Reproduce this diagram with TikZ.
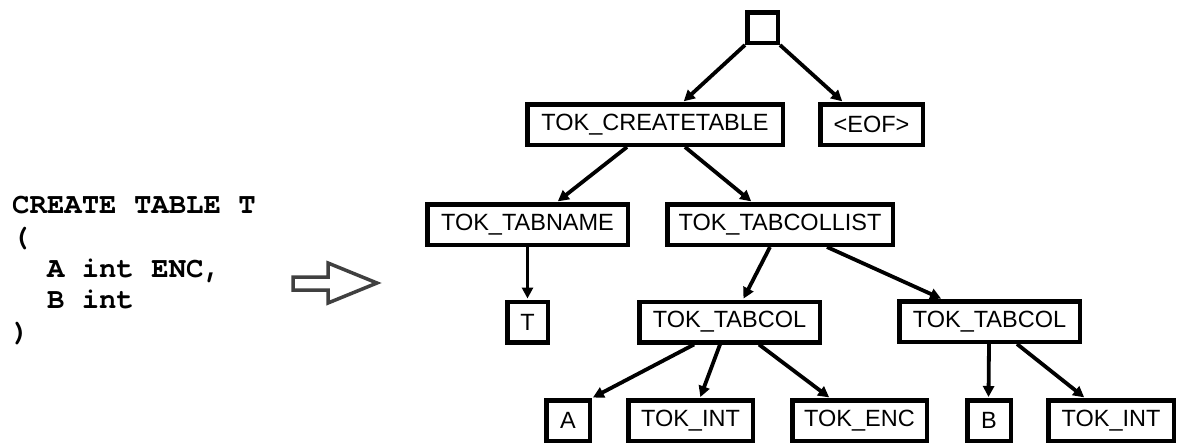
\documentclass[tikz,border=0pt]{standalone}
\usepackage{fontspec}
\setmainfont{Liberation Sans}
\setmonofont{TeX Gyre Cursor}
\usetikzlibrary{arrows.meta}
\begin{document}
\begin{tikzpicture}[x=1pt,y=-1pt,
  tok/.style={draw=black, line width=4.5pt, inner sep=0pt, minimum height=40.5pt,
    font=\fontsize{23.5}{28}\selectfont},
  edge/.style={line width=3.8pt, -{Triangle[length=11pt,width=11pt]}, shorten >=1pt},
  codeline/.style={anchor=base west, inner sep=0pt,
    font=\ttfamily\bfseries\fontsize{29}{32}\selectfont},
  hollow/.style={draw=black!75, line width=3.5pt, fill=white, line join=miter}]
\useasboundingbox (0,0) rectangle (1178,445);

% source text
\node[codeline] (c1) at (12,213) {CREATE TABLE T};
\node[codeline] (c2) at (12,245) {(};
\node[codeline] (c3) at (46.8,277) {A int ENC,};
\node[codeline] (c4) at (46.8,308.5) {B int};
\node[codeline] (c5) at (12,340) {)};

% transformation arrow
\draw[hollow] (293,277) -- (328,277) -- (328,263) -- (377,283) -- (328,303)
  -- (328,290) -- (293,290) -- cycle;

% parse tree
\node[tok, minimum width=30.5pt, minimum height=30.5pt] (root) at (762.5,27.5) {};
\node[tok, minimum width=255.5pt] (create) at (655,124.5) {TOK\_CREATETABLE};
\node[tok, minimum width=102.5pt] (eof) at (871.5,124.5) {<EOF>};
\node[tok, minimum width=200.5pt] (tabname) at (527.5,224.5) {TOK\_TABNAME};
\node[tok, minimum width=225.5pt] (collist) at (780,224.5) {TOK\_TABCOLLIST};
\node[tok, minimum width=40.5pt] (t) at (527.5,322) {T};
\node[tok, minimum width=180.5pt] (col1) at (729.5,322) {TOK\_TABCOL};
\node[tok, minimum width=180.5pt] (col2) at (989.5,321.5) {TOK\_TABCOL};
\node[tok, minimum width=43.5pt] (a) at (568,420.5) {A};
\node[tok, minimum width=124.5pt] (int1) at (690.5,420.5) {TOK\_INT};
\node[tok, minimum width=134.5pt] (enc) at (859.5,420.5) {TOK\_ENC};
\node[tok, minimum width=43.5pt] (b) at (989,420.5) {B};
\node[tok, minimum width=125.5pt] (int2) at (1111,420.5) {TOK\_INT};

\draw[edge] (root.south west) -- ([xshift=28pt]create.north);
\draw[edge] (root.south east) -- ([xshift=-28.5pt]eof.north);
\draw[edge] ([xshift=-28pt]create.south) -- ([xshift=29.5pt]tabname.north);
\draw[edge] ([xshift=30pt]create.south) -- ([xshift=-28pt]collist.north);
\draw[edge] (tabname.south) -- (t.north);
\draw[edge] ([xshift=-10pt]collist.south) -- ([xshift=13.5pt]col1.north);
\draw[edge] ([xshift=47pt]collist.south) -- ([xshift=-47.5pt]col2.north);
\draw[edge] ([xshift=-35.5pt]col1.south) -- (a.north east);
\draw[edge] ([xshift=-9.5pt]col1.south) -- ([xshift=9.5pt]int1.north);
\draw[edge] ([xshift=29.5pt]col1.south) -- ([xshift=-29.5pt]enc.north);
\draw[edge] ([xshift=-0.5pt]col2.south) -- ([xshift=-0.5pt]b.north);
\draw[edge] ([xshift=27.5pt]col2.south) -- ([xshift=-26pt]int2.north);
\end{tikzpicture}
\end{document}
